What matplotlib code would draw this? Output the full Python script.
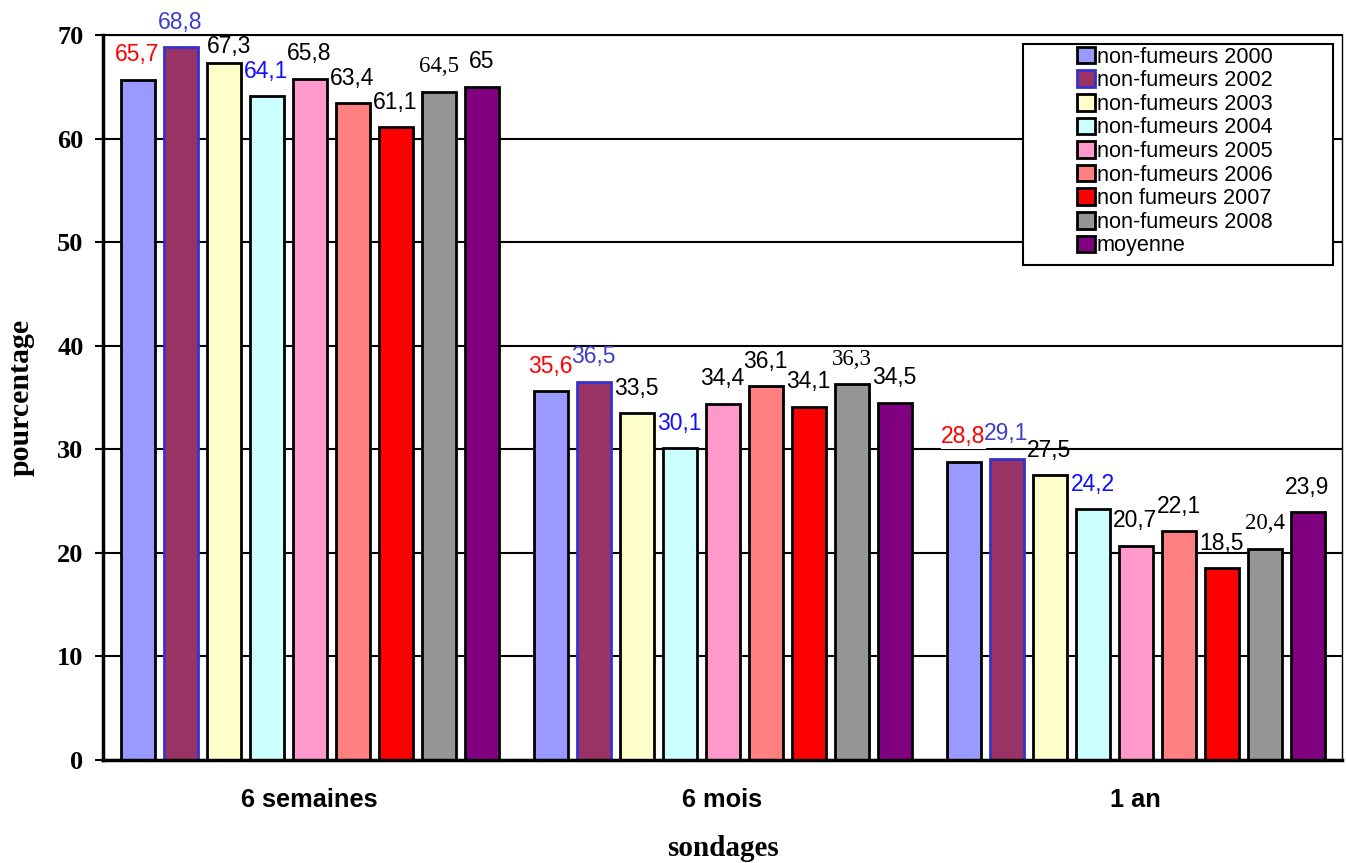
import matplotlib.pyplot as plt
import numpy as np
from matplotlib.patches import Rectangle

# survey moments (x categories)
sondages = ['6 semaines', '6 mois', '1 an']

# series names as shown in the legend
series = ['non-fumeurs 2000', 'non-fumeurs 2002', 'non-fumeurs 2003',
          'non-fumeurs 2004', 'non-fumeurs 2005', 'non-fumeurs 2006',
          'non fumeurs 2007', 'non-fumeurs 2008', 'moyenne']

nf2000 = [65.7, 35.6, 28.8]
nf2002 = [68.8, 36.5, 29.1]
nf2003 = [67.3, 33.5, 27.5]
nf2004 = [64.1, 30.1, 24.2]
nf2005 = [65.8, 34.4, 20.7]
nf2006 = [63.4, 36.1, 22.1]
nf2007 = [61.1, 34.1, 18.5]
nf2008 = [64.5, 36.3, 20.4]
moyenne = [65.0, 34.5, 23.9]
values = [nf2000, nf2002, nf2003, nf2004, nf2005, nf2006, nf2007, nf2008, moyenne]

# styles
colors = ['#9999FF', '#993366', '#FFFFCC', '#CCFFFF', '#FF99CC',
          '#FF8080', '#FF0000', '#969696', '#800080']
edges = ['black', '#3333CC', 'black', 'black', 'black',
         'black', 'black', 'black', 'black']
label_colors = ['#FF0000', '#3F3FCC', 'black', '#1010FF', 'black',
                'black', 'black', 'black', 'black']
label_fonts = ['Liberation Sans'] * 7 + ['Liberation Serif', 'Liberation Sans']


def fmt(v):
    if v == int(v):
        return str(int(v))
    return f"{v:.1f}".replace('.', ',')


fig = plt.figure(figsize=(13.46, 8.63), dpi=100)
ax = fig.add_axes([103 / 1346, 1 - 760 / 863, 1239 / 1346, 725 / 863])

x = np.arange(len(sondages))
pitch = 43 / 413
width = 34 / 413

bars = []
for i, vals in enumerate(values):
    b = ax.bar(x + (i - 4) * pitch, vals, width, color=colors[i],
               edgecolor=edges[i], linewidth=2, label=series[i], zorder=2)
    bars.append(b)
    for j, v in enumerate(vals):
        dx, dy = 0, 18
        if i == 2 and j == 0:
            dx, dy = 4, 12
        bg = None
        if i == 0 and j == 2:
            bg = dict(facecolor='white', edgecolor='none', pad=0.5)
        ax.annotate(fmt(v), (x[j] + (i - 4) * pitch, v), xytext=(dx, dy),
                    textcoords='offset points', ha='center', va='center',
                    fontsize=16.5, color=label_colors[i],
                    family=label_fonts[i], bbox=bg, zorder=4)

ax.set_xlim(-0.5, 2.5)
ax.set_ylim(0, 70)
ax.set_yticks(np.arange(0, 71, 10))
ax.set_axisbelow(True)
ax.yaxis.grid(True, color='black', linewidth=1.5)

for lab in ax.get_yticklabels():
    lab.set_family('Liberation Serif')
    lab.set_fontweight('bold')
    lab.set_fontsize(19)
ax.tick_params(axis='y', length=6, width=1.5, pad=8)

ax.set_xticks(x)
ax.set_xticklabels(sondages, fontsize=18.3, fontweight='bold',
                   family='Liberation Sans')
ax.tick_params(axis='x', length=0, pad=20)

ax.spines['left'].set_linewidth(2.5)
ax.spines['bottom'].set_linewidth(2.5)
ax.spines['right'].set_linewidth(1.0)
ax.spines['top'].set_linewidth(1.5)

ax.set_xlabel('sondages', fontsize=21, fontweight='bold',
              family='Liberation Serif', labelpad=17)
ax.set_ylabel('pourcentage', fontsize=21.5, fontweight='bold',
              family='Liberation Serif', labelpad=16)

# legend box
box = Rectangle((0.7425, 0.6828), 0.2502, 0.3048, transform=ax.transAxes,
                facecolor='white', edgecolor='black', linewidth=1.5, zorder=5)
ax.add_patch(box)
leg = ax.legend(handles=bars, loc='upper left', bbox_to_anchor=(0.7865, 0.984),
                frameon=False, borderpad=0, borderaxespad=0,
                labelspacing=0.12, handlelength=0.8,
                handleheight=0.8, handletextpad=0.1,
                prop={'family': 'Liberation Sans', 'size': 15.6})
leg.set_zorder(6)

fig.savefig('out.png', dpi=100)
